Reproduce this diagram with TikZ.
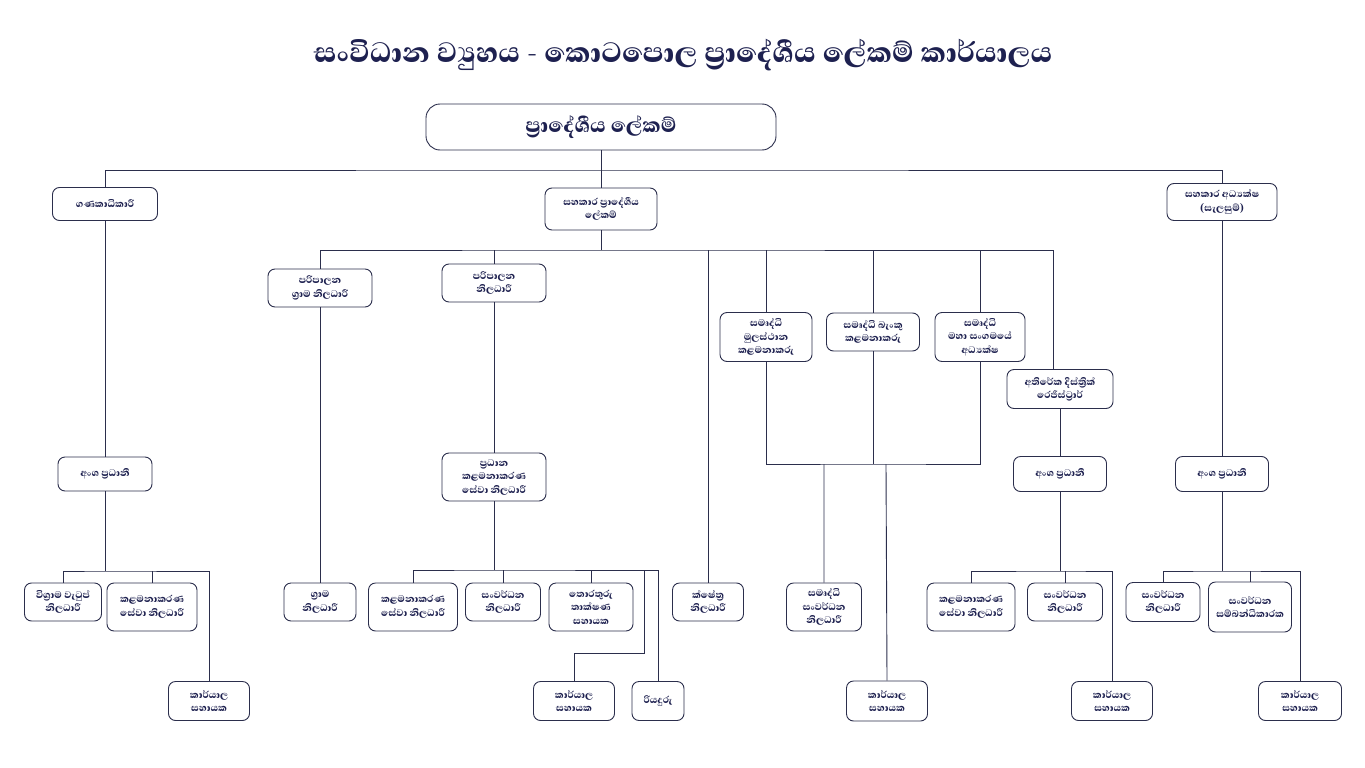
\documentclass[tikz,border=0pt]{standalone}
\usepackage{fontspec}
\newfontfamily\sinfont[Script=Sinhala]{Abhaya Libre}[BoldFont={Abhaya Libre ExtraBold}]
\definecolor{navy}{HTML}{1E2150}
\definecolor{wire}{HTML}{2B2E4C}

\begin{document}
\begin{tikzpicture}[
            x = 1pt, y = -1pt, % pixel grid, y downwards
            font = \sinfont\bfseries,
            line width = 0.9pt
        ]

        \tikzset{
            post/.style = {
                draw = wire,
                fill = white,
                rounded corners = 7pt,
                align = center,
                text = navy,
                inner sep = 2pt,
                font = \sinfont\bfseries\fontsize{12.5}{13.5}\selectfont
            },
            link/.style = {draw = wire}
        }

        \useasboundingbox (0,0) rectangle (1365,768);

        \node[text=navy, font=\sinfont\bfseries\fontsize{36}{40}\selectfont] (title) at (683,55)
            {සංවිධාන ව්‍යුහය - කොටපොල ප්‍රාදේශීය ලේකම් කාර්යාලය};

        % top levels
        \node[post, minimum width=350, minimum height=46, rounded corners=14pt,
              font=\sinfont\bfseries\fontsize{26}{28}\selectfont] (dsec) at (601,127) {ප්‍රාදේශීය ලේකම්};
        \node[post, minimum width=105, minimum height=33] (acct) at (105,204) {ගණකාධිකාරී};
        \node[post, minimum width=112, minimum height=42] (adsec) at (601,209) {සහකාර ප්‍රාදේශීය\\ලේකම්};
        \node[post, minimum width=110, minimum height=37] (adplan) at (1222,202) {සහකාර අධ්‍යක්ෂ\\(සැලසුම්)};

        % under assistant divisional secretary
        \node[post, minimum width=104, minimum height=38] (agn) at (320,288) {පරිපාලන\\ග්‍රාම නිලධාරී};
        \node[post, minimum width=104, minimum height=38] (ao) at (494,283) {පරිපාලන\\නිලධාරී};
        \node[post, minimum width=92, minimum height=49] (smhq) at (766,337) {සමෘද්ධි\\මුලස්ථාන\\කළමනාකරු};
        \node[post, minimum width=93, minimum height=38] (smbank) at (873,332) {සමෘද්ධි බැංකු\\කළමනාකරු};
        \node[post, minimum width=90, minimum height=49] (smsoc) at (980,337) {සමෘද්ධි\\මහා සංගමයේ\\අධ්‍යක්ෂ};
        \node[post, minimum width=106, minimum height=39] (adr) at (1060,389) {අතිරේක දිස්ත්‍රික්\\රෙජිස්ට්‍රාර්};

        % section heads
        \node[post, minimum width=94, minimum height=34] (head1) at (105,474) {අංශ ප්‍රධානී};
        \node[post, minimum width=104, minimum height=48] (cmso) at (494,477) {ප්‍රධාන\\කළමනාකරණ\\සේවා නිලධාරී};
        \node[post, minimum width=93, minimum height=35] (head2) at (1060,474) {අංශ ප්‍රධානී};
        \node[post, minimum width=93, minimum height=35] (head3) at (1222,474) {අංශ ප්‍රධානී};

        % bottom row
        \node[post, minimum width=77, minimum height=38] (pens) at (63,602) {විශ්‍රාම වැටුප්\\නිලධාරී};
        \node[post, minimum width=90, minimum height=48] (mso1) at (152,607) {කළමනාකරණ\\සේවා නිලධාරී};
        \node[post, minimum width=81, minimum height=39] (oa1) at (209,701) {කාර්යාල\\සහායක};
        \node[post, minimum width=72, minimum height=38] (gn) at (320,602) {ග්‍රාම\\නිලධාරී};
        \node[post, minimum width=89, minimum height=48] (mso2) at (413,607) {කළමනාකරණ\\සේවා නිලධාරී};
        \node[post, minimum width=75, minimum height=38] (dev1) at (503,602) {සංවර්ධන\\නිලධාරී};
        \node[post, minimum width=84, minimum height=48] (ita) at (591,607) {තොරතුරු\\තාක්ෂණ\\සහායක};
        \node[post, minimum width=81, minimum height=39] (oa2) at (574,701) {කාර්යාල\\සහායක};
        \node[post, minimum width=52, minimum height=39] (drv) at (658,701) {රියදුරු};
        \node[post, minimum width=71, minimum height=38] (fo) at (708,602) {ක්ෂේත්‍ර\\නිලධාරී};
        \node[post, minimum width=75, minimum height=48] (smdev) at (824,607) {සමෘද්ධි\\සංවර්ධන\\නිලධාරී};
        \node[post, minimum width=81, minimum height=40] (oa3) at (887,701) {කාර්යාල\\සහායක};
        \node[post, minimum width=88, minimum height=48] (mso3) at (971,607) {කළමනාකරණ\\සේවා නිලධාරී};
        \node[post, minimum width=75, minimum height=38] (dev2) at (1065,602) {සංවර්ධන\\නිලධාරී};
        \node[post, minimum width=81, minimum height=39] (oa4) at (1112,701) {කාර්යාල\\සහායක};
        \node[post, minimum width=74, minimum height=39] (dev3) at (1163,602) {සංවර්ධන\\නිලධාරී};
        \node[post, minimum width=83, minimum height=50] (coord) at (1250,607) {සංවර්ධන\\සම්බන්ධීකාරක};
        \node[post, minimum width=83, minimum height=39] (oa5) at (1300,701) {කාර්යාල\\සහායක};

        \coordinate (busA) at (601,170);
        \coordinate (busB) at (601,250);
        \coordinate (busC) at (873,464);

        \path[link] (dsec) -- (busA) (acct.north) |- (busA) -| (adplan.north) (busA) -- (adsec);
        \path[link] (adsec) -- (busB) (agn.north) |- (busB) -| (1053,370);
        \path[link] (ao.north) -- (494,250) (fo.north) -- (708,250)
                    (smhq.north) -- (766,250) (smbank.north) -- (873,250) (smsoc.north) -- (980,250);
        \path[link] (smhq) |- (busC) -| (smsoc) (smbank) -- (busC);
        \path[link] (smdev.north) -- (824,464) (oa3.north) -- (886,464);
        \path[link] (acct) -- (head1) (head1) -- (105,571);
        \path[link] (pens.north) |- (105,571) -| (oa1.north) (mso1.north) -- (152,571);
        \path[link] (agn) -- (gn);
        \path[link] (ao) -- (cmso) (cmso) -- (494,570);
        \path[link] (mso2.north) |- (494,570) -| (drv.north) (dev1.north) -- (503,570) (ita.north) -- (591,570);
        \path[link] (644,570) |- (574,653) -- (oa2.north);
        \path[link] (adr) -- (head2) (head2) -- (1060,571);
        \path[link] (mso3.north) |- (1060,571) -| (oa4.north) (dev2.north) -- (1065,571);
        \path[link] (adplan) -- (head3) (head3) -- (1222,571);
        \path[link] (dev3.north) |- (1222,571) -| (oa5.north) (coord.north) -- (1250,571);

    \end{tikzpicture}
\end{document}
